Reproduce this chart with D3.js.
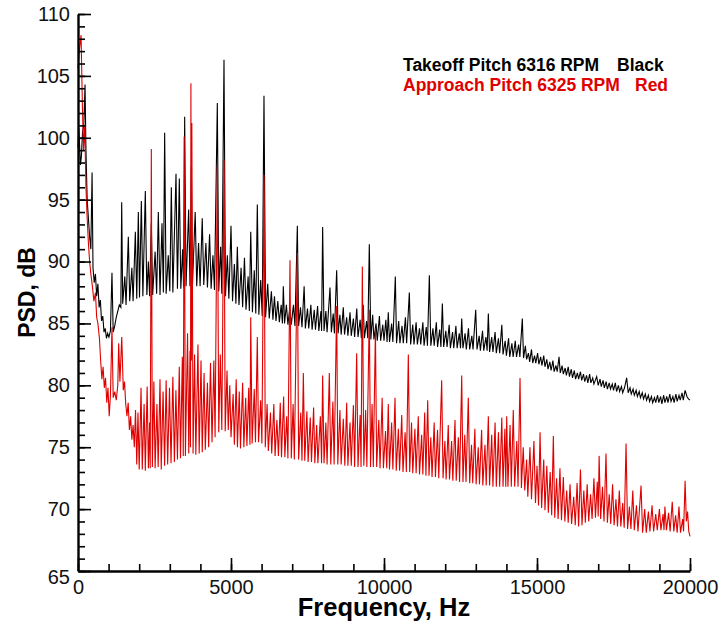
<!DOCTYPE html>
<html>
<head>
<meta charset="utf-8">
<script src="https://cdn.jsdelivr.net/npm/d3@7"></script>
<style>
body { margin: 0; background: #fff; }
text { font-family: "Liberation Sans", Arial, Helvetica, sans-serif; }
</style>
</head>
<body>
<div id="vis"></div>
<script>
// takeoff pitch, 6316 RPM  [Hz, dB]
var takeoff = [[0,99.2],[25,100.8],[50,99.5],[80,97.8],[110,98.5],[150,100.5],[190,101],[230,104.3],[260,99],[300,95],[340,93.5],[380,92],[420,91],[460,97.2],[490,89.5],[530,88.3],[570,89],[610,87.2],[650,88.2],[690,86.3],[730,86.9],[770,85.2],[810,85.6],[850,84.3],[890,84.6],[930,83.8],[970,84.2],[1010,83.9],[1060,84.4],[1110,89.1],[1150,84.3],[1200,84.8],[1250,85.5],[1300,86],[1350,86.5],[1400,86.3],[1428,94.8],[1460,86.6],[1530,88.8],[1570,86.5],[1645,92.0],[1690,86.8],[1760,89.5],[1800,86.8],[1874,92.4],[1920,87],[1972,94.0],[2010,87.1],[2070,94.9],[2120,87.2],[2200,95.7],[2250,87.3],[2300,90],[2340,87.2],[2396,93.1],[2440,87.3],[2520,90.8],[2570,87.4],[2625,94.0],[2680,87.3],[2745,93.1],[2790,87.5],[2832,100.4],[2880,87.4],[2950,90.5],[3000,87.6],[3050,96.0],[3100,87.5],[3203,97.1],[3250,87.8],[3311,96.7],[3360,87.8],[3420,91],[3450,87.9],[3486,101.7],[3530,88],[3617,94.2],[3660,88],[3704,97.7],[3740,88.1],[3830,94],[3880,88],[3940,91.5],[3990,88],[4060,93.5],[4110,88.1],[4180,91.5],[4230,87.9],[4300,92.2],[4350,87.8],[4410,90.5],[4460,87.7],[4553,102.8],[4600,87.6],[4660,91.2],[4700,87.4],[4771,106.3],[4820,87.2],[4880,90.5],[4930,87],[5000,92.9],[5050,86.8],[5110,89.8],[5160,86.6],[5207,91.2],[5260,86.5],[5330,89.5],[5380,86.3],[5440,90.3],[5490,86.1],[5560,88.8],[5600,86],[5645,92.4],[5700,85.9],[5760,89.3],[5810,85.8],[5860,94.6],[5910,85.7],[5970,88.5],[6020,85.6],[6078,103.4],[6130,85.5],[6200,88.2],[6250,85.4],[6320,87.6],[6370,85.3],[6420,87.2],[6470,85.2],[6530,86.8],[6580,85.1],[6640,86.5],[6680,85],[6710,88],[6750,85],[6810,86.5],[6860,84.9],[6920,86.2],[6970,84.9],[7040,86.5],[7090,84.8],[7168,92.9],[7210,84.8],[7270,86.3],[7320,84.7],[7390,88],[7430,84.6],[7500,86.2],[7540,84.6],[7610,86.5],[7650,84.5],[7720,86.1],[7760,84.5],[7830,86.4],[7870,84.4],[7940,86],[7960,84.4],[7995,92.8],[8040,84.4],[8100,86],[8140,84.3],[8235,87.9],[8280,84.3],[8340,85.8],[8380,84.2],[8453,89.3],[8500,84.2],[8560,85.7],[8600,84.1],[8670,86.3],[8710,84.1],[8780,85.5],[8820,84],[8890,85.9],[8930,84],[9000,85.4],[9040,83.9],[9110,86.2],[9150,83.9],[9220,85.3],[9260,83.8],[9320,86.5],[9360,83.8],[9430,85.2],[9470,83.8],[9520,91.4],[9570,83.7],[9630,85.7],[9670,83.7],[9740,85],[9780,83.6],[9850,85.6],[9890,83.6],[9960,84.9],[10000,83.6],[10060,85.3],[10100,83.5],[10140,85.9],[10180,83.5],[10250,85],[10290,83.5],[10370,88.8],[10410,83.4],[10480,85.2],[10520,83.4],[10590,84.8],[10630,83.4],[10700,85.5],[10740,83.4],[10828,87.5],[10870,83.3],[10940,84.9],[10980,83.3],[11050,85.1],[11090,83.3],[11160,84.6],[11200,83.3],[11270,85.1],[11310,83.2],[11380,84.7],[11420,83.2],[11482,88.9],[11530,83.2],[11600,84.6],[11640,83.2],[11710,85.1],[11750,83.1],[11820,84.5],[11860,83.1],[11907,86.6],[11950,83.1],[12020,84.4],[12060,83.1],[12130,84.9],[12170,83],[12240,84.3],[12280,83],[12350,84.8],[12390,83],[12460,84.2],[12500,83],[12540,85.4],[12580,83],[12650,84.2],[12690,82.9],[12760,84.6],[12800,82.9],[12870,84],[12910,82.9],[12997,86.1],[13040,82.9],[13110,84],[13150,82.8],[13220,84.4],[13260,82.8],[13330,83.9],[13370,82.8],[13410,85.8],[13450,82.7],[13520,83.9],[13560,82.7],[13630,84.3],[13670,82.6],[13740,83.8],[13780,82.6],[13850,84.9],[13890,82.5],[13960,83.6],[14000,82.4],[14070,83.8],[14110,82.3],[14180,83.4],[14220,82.3],[14290,83.6],[14330,82.3],[14400,83.3],[14440,82.3],[14520,85.4],[14560,82.2],[14620,83.2],[14660,82.1],[14720,82.6],[14760,81.9],[14820,82.9],[14860,81.8],[14920,82.4],[14960,81.8],[15020,82.6],[15060,81.7],[15120,82.3],[15160,81.6],[15220,82.4],[15260,81.5],[15320,82.1],[15360,81.3],[15420,81.9],[15460,81.2],[15520,82],[15560,81.1],[15620,81.6],[15660,81.1],[15720,82.3],[15760,81],[15820,81.6],[15860,80.9],[15920,81.4],[15960,80.8],[16020,81.5],[16060,80.7],[16120,81.3],[16160,80.6],[16220,81.2],[16260,80.5],[16320,81],[16360,80.5],[16420,81.1],[16460,80.4],[16520,80.9],[16560,80.3],[16620,80.8],[16660,80.2],[16720,80.9],[16760,80.2],[16820,80.6],[16860,80.1],[16950,80.7],[17000,80],[17060,80.5],[17100,79.9],[17160,80.4],[17200,79.8],[17260,80.3],[17300,79.7],[17360,80.2],[17400,79.7],[17460,80.1],[17500,79.6],[17560,80.2],[17600,79.5],[17660,80],[17700,79.5],[17760,79.9],[17800,79.4],[17860,79.8],[17930,80.6],[17980,79.4],[18040,79.8],[18080,79.3],[18140,79.7],[18180,79.2],[18240,79.6],[18280,79.1],[18340,79.5],[18380,79],[18440,79.4],[18480,78.9],[18540,79.3],[18580,78.8],[18640,79.2],[18680,78.7],[18740,79.1],[18780,78.6],[18840,79],[18880,78.6],[18940,79.2],[18980,78.6],[19040,79.1],[19080,78.5],[19140,79.2],[19180,78.6],[19240,79.1],[19280,78.6],[19340,79.3],[19380,78.7],[19440,79.1],[19480,78.6],[19540,79.3],[19580,78.7],[19640,79.2],[19680,78.8],[19740,79.4],[19780,78.8],[19840,79.6],[19900,79.1],[19950,78.9],[20000,78.8]];

// approach pitch, 6325 RPM  [Hz, dB]
var approach = [[0,105.6],[40,107],[100,108.3],[140,103],[180,99],[220,101],[260,96],[300,93.5],[340,91.5],[380,90],[420,89],[470,88],[520,86.8],[570,87.5],[610,85.5],[650,85],[700,83.8],[740,82],[780,80.5],[820,81.5],[860,79.8],[900,80.6],[940,78.6],[980,79.8],[1020,77.5],[1060,79.2],[1110,84.7],[1150,79],[1200,79.5],[1250,78.8],[1300,80],[1330,83.4],[1370,80.3],[1430,83.9],[1480,79.6],[1520,80.3],[1560,78.5],[1600,77.5],[1640,78.6],[1680,76.4],[1720,77.5],[1760,75.6],[1800,76.8],[1840,75],[1880,78],[1920,73.6],[1960,77.8],[2000,73.2],[2060,79.8],[2100,73.2],[2160,78.5],[2200,73.1],[2260,79.9],[2300,73.3],[2340,77],[2360,73.3],[2396,99.1],[2430,73.4],[2480,80.3],[2520,73.3],[2580,78.5],[2620,73.4],[2680,80.5],[2720,73.2],[2780,79.5],[2830,73.5],[2880,80.4],[2930,73.6],[2990,79.8],[3040,73.7],[3100,80.7],[3150,73.8],[3200,79.6],[3250,74],[3310,81.5],[3350,74.1],[3410,82.3],[3440,74.3],[3470,100.1],[3510,74.3],[3580,84.2],[3620,74.5],[3660,82.8],[3675,75],[3690,104.4],[3705,82],[3720,101.2],[3760,74.5],[3810,82.5],[3850,74.4],[3920,83.3],[3960,74.5],[4020,82],[4060,74.6],[4120,81],[4160,74.8],[4230,80.2],[4270,75],[4330,81.8],[4380,75.4],[4440,82],[4480,75.8],[4553,97.8],[4600,76.2],[4650,82.5],[4700,76.4],[4771,98.2],[4810,76.3],[4870,81.2],[4910,76.4],[4960,80],[5000,75.8],[5070,79.3],[5110,75.2],[5170,80.5],[5210,75],[5270,79.5],[5310,74.9],[5380,80.2],[5420,75],[5480,79],[5520,75.1],[5580,79.8],[5620,75.2],[5645,85.5],[5690,75.3],[5760,79.7],[5800,75.4],[5860,83.9],[5900,75.4],[5970,78.8],[6010,75.3],[6078,97],[6120,75],[6180,78.5],[6220,74.7],[6290,77.8],[6330,74.5],[6400,78.5],[6440,74.3],[6500,77.2],[6550,74.3],[6610,78.6],[6650,74.2],[6720,79.1],[6760,74.2],[6820,77.5],[6860,74.1],[6928,90.1],[6970,74.1],[7030,78.5],[7070,74],[7168,90.7],[7210,74],[7280,77.8],[7320,73.9],[7364,81],[7410,73.9],[7480,77.9],[7520,73.8],[7590,77.4],[7630,73.8],[7700,78.2],[7740,73.7],[7800,76.8],[7840,73.7],[7920,77.5],[7960,73.7],[7995,80.8],[8040,73.7],[8100,77],[8140,73.6],[8213,81],[8260,73.6],[8330,78.7],[8370,73.6],[8453,86.4],[8490,73.6],[8560,78],[8600,73.6],[8670,77.3],[8720,73.5],[8780,78.6],[8820,73.5],[8890,77],[8930,73.5],[9000,78.4],[9040,73.4],[9107,82.6],[9150,73.4],[9220,77.6],[9250,73.4],[9292,89.6],[9340,73.5],[9400,78],[9440,73.4],[9520,86.1],[9560,73.4],[9610,78.5],[9650,73.4],[9720,84.6],[9760,73.4],[9830,77.2],[9870,73.3],[9940,79],[9980,73.3],[10050,76.3],[10090,73.3],[10140,78.5],[10180,73.2],[10250,77],[10290,73.2],[10360,79],[10400,73.1],[10470,76.5],[10510,73.1],[10580,77.6],[10620,73],[10690,76.2],[10730,73],[10795,82.5],[10840,73],[10900,77],[10940,72.9],[11010,76.5],[11050,72.9],[11120,77.5],[11160,72.8],[11230,76],[11270,72.8],[11330,77.8],[11370,72.7],[11428,78.8],[11470,72.7],[11530,75.8],[11570,72.6],[11640,77],[11680,72.6],[11750,76.4],[11790,72.5],[11885,80.4],[11930,72.5],[11990,75.5],[12030,72.4],[12100,76.8],[12140,72.4],[12210,75.5],[12250,72.3],[12320,77.2],[12360,72.3],[12430,75.8],[12470,72.2],[12540,80.8],[12580,72.2],[12640,76],[12680,72.2],[12755,79],[12800,72.1],[12860,75.2],[12900,72.1],[12970,76.5],[13010,72],[13080,75],[13120,72],[13190,76.4],[13230,71.9],[13300,75.2],[13340,71.9],[13410,77.5],[13450,71.9],[13520,76],[13560,71.8],[13630,77],[13670,71.8],[13740,76.2],[13780,71.8],[13850,77.4],[13890,71.8],[13950,76.5],[13980,71.8],[14010,77.5],[14050,71.8],[14120,76.8],[14160,71.8],[14225,78],[14270,71.8],[14340,75.5],[14380,71.8],[14445,80.6],[14490,71.7],[14550,75],[14600,71.5],[14660,74],[14700,71],[14770,75],[14820,70.8],[14900,75.5],[14950,70.5],[15000,73.5],[15050,70.3],[15100,76.2],[15150,70.1],[15220,74],[15260,69.9],[15320,73.5],[15370,69.7],[15430,73],[15480,69.5],[15534,75.9],[15580,69.3],[15640,72.5],[15690,69.2],[15750,73.3],[15800,69.1],[15860,72.6],[15910,69],[15970,71.5],[16020,68.9],[16080,72],[16130,68.8],[16200,71],[16250,68.7],[16310,72.1],[16360,68.6],[16420,73.2],[16470,68.7],[16530,71.5],[16580,68.9],[16640,72],[16690,69],[16750,71.2],[16800,69.2],[16860,72.5],[16910,69.3],[16970,72.2],[17000,69.4],[17030,74.3],[17080,69.2],[17140,71.8],[17190,69],[17255,74.5],[17300,68.9],[17360,71.2],[17410,68.8],[17470,72],[17520,68.7],[17580,70.8],[17630,68.6],[17690,71.5],[17740,68.6],[17800,70.5],[17850,68.5],[17910,75.3],[17960,68.4],[18020,70.2],[18070,68.4],[18130,71.5],[18180,68.3],[18250,70.3],[18300,68.2],[18400,71.9],[18450,68.1],[18520,70],[18570,68.1],[18640,69.8],[18690,68.2],[18760,70.3],[18810,68.2],[18880,69.6],[18930,68.3],[19000,70],[19050,68.3],[19120,69.6],[19150,68.3],[19180,70.2],[19230,68.3],[19300,69.7],[19350,68.2],[19420,70.6],[19470,68.2],[19530,69.5],[19580,68.1],[19640,70.2],[19690,68.1],[19760,69.2],[19790,68.2],[19840,72.3],[19880,69],[19920,69.8],[19960,68.2],[20000,67.8]];

var xMajor = [0, 5000, 10000, 15000, 20000];
var yMajor = [65, 70, 75, 80, 85, 90, 95, 100, 105, 110];
var legendText = ["Takeoff Pitch 6316 RPM", "Approach Pitch 6325 RPM"];
var legendTag = ["Black", "Red"];
var seriesColor = ["#000000", "#e00000"];

var W = 723, H = 627,
    padL = 78, padT = 14, padR = 690, padB = 571;

var x = d3.scaleLinear().domain([0, 20000]).range([padL, padR]);
var y = d3.scaleLinear().domain([65, 110]).range([padB, padT]);

var svg = d3.select("#vis").append("svg")
  .attr("width", W)
  .attr("height", H);

var line = d3.line()
  .x(function(d){ return x(d[0]); })
  .y(function(d){ return y(d[1]); });

svg.selectAll("path.series")
  .data([takeoff, approach])
  .enter().append("path")
  .attr("class", "series")
  .attr("d", line)
  .attr("fill", "none")
  .attr("stroke", function(d, i){ return seriesColor[i]; })
  .attr("stroke-width", 1.1)
  .attr("stroke-linejoin", "miter");

// minor ticks first, then the major axis on top
svg.append("g")
  .attr("transform", "translate(" + padL + ",0)")
  .call(d3.axisLeft(y).tickValues(d3.range(65, 111, 1)).tickSize(-7).tickFormat(""))
  .call(function(g){ g.select(".domain").remove(); });

svg.append("g")
  .attr("transform", "translate(0," + padB + ")")
  .call(d3.axisBottom(x).tickValues(d3.range(0, 20001, 1000)).tickSize(-7).tickFormat(""))
  .call(function(g){ g.select(".domain").remove(); });

var yAxis = svg.append("g")
  .attr("transform", "translate(" + padL + ",0)")
  .call(d3.axisLeft(y).tickValues(yMajor).tickSize(-13).tickSizeOuter(0).tickPadding(8).tickFormat(d3.format("d")));

var xAxis = svg.append("g")
  .attr("transform", "translate(0," + padB + ")")
  .call(d3.axisBottom(x).tickValues(xMajor).tickSize(-13).tickSizeOuter(0).tickPadding(9).tickFormat(d3.format("d")));

svg.selectAll(".tick line").attr("stroke", "#000").attr("stroke-width", 1.6);
svg.selectAll(".domain").attr("stroke", "#000").attr("stroke-width", 2.4);
svg.selectAll(".tick text")
  .attr("font-family", "'Liberation Sans', Arial, sans-serif")
  .attr("font-size", 20)
  .attr("fill", "#111");

// the bottom label of the y axis sits a little low
yAxis.selectAll(".tick text").filter(function(d){ return d === 65; }).attr("dy", "0.6em");

xAxis.selectAll(".tick text").attr("dy", "0.7em");

svg.append("text")
  .attr("x", (padL + padR) / 2)
  .attr("y", 616)
  .attr("text-anchor", "middle")
  .attr("font-weight", "bold")
  .attr("font-size", 25.5)
  .text("Frequency, Hz");

svg.append("text")
  .attr("transform", "translate(35," + (padT + padB) / 2 + ") rotate(-90)")
  .attr("text-anchor", "middle")
  .attr("font-weight", "bold")
  .attr("font-size", 23)
  .text("PSD, dB");

var legend = svg.selectAll("g.legend")
  .data(legendText)
  .enter().append("g")
  .attr("class", "legend")
  .attr("transform", function(d, i){ return "translate(403," + (71 + i * 20) + ")"; });

legend.append("text")
  .attr("font-weight", "bold")
  .attr("font-size", 17.5)
  .attr("fill", function(d, i){ return seriesColor[i]; })
  .text(function(d){ return d; });

legend.append("text")
  .attr("x", function(d, i){ return i === 0 ? 214 : 232; })
  .attr("font-weight", "bold")
  .attr("font-size", 17.5)
  .attr("fill", function(d, i){ return seriesColor[i]; })
  .text(function(d, i){ return legendTag[i]; });
</script>
</body>
</html>
